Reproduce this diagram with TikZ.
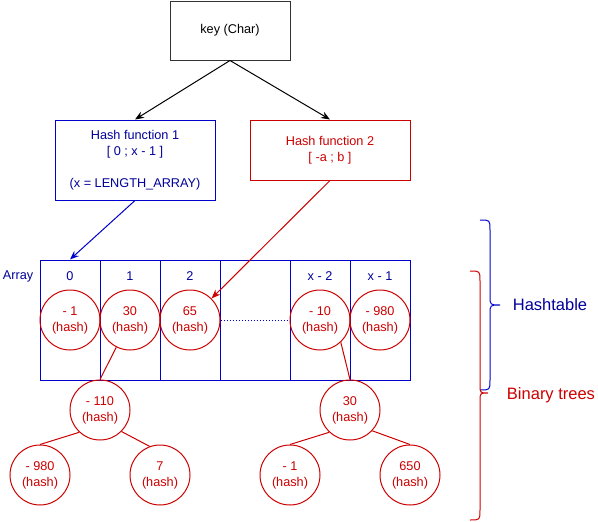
\documentclass[tikz,border=0pt]{standalone}
\usepackage{xcolor}
\usepackage{fontspec}
\setmainfont{Liberation Sans}
\usepackage{tikz}
\usetikzlibrary{arrows.meta}
\definecolor{hblue}{HTML}{0000CC}
\definecolor{hdark}{HTML}{000099}
\definecolor{hred}{HTML}{CC0000}

\begin{document}
\begin{tikzpicture}[x=1pt,y=-1pt,line width=1pt,
		every node/.style={font=\fontsize{12.7}{16}\selectfont, align=center},
		box/.style={draw, rectangle, inner sep=0pt},
		cell/.style={draw=hblue, rectangle, inner sep=0pt, minimum height=120pt},
		hnode/.style={draw=hred, text=hred, circle, inner sep=0pt, minimum size=60pt},
		arr/.style={-{Stealth[length=9pt,width=7pt]}}]
		\useasboundingbox (0,0) rectangle (598,522);
		% input and hash functions
		\node[box, draw=black!80, minimum width=120pt, minimum height=59pt] (key) at (230,30.5) {key (Char)};
		\node[box, draw=hblue, text=hdark, minimum width=160pt, minimum height=80pt] (hf1) at (135,160) {Hash function 1\\{}[ 0 ; x - 1 ]\\[16pt](x = LENGTH\_ARRAY)};
		\node[box, draw=hred, text=hred, minimum width=160pt, minimum height=60pt] (hf2) at (330,150) {Hash function 2\\{}[ -a ; b ]};
		% array
		\node[cell, minimum width=60pt] (a0) at (70,320) {};
		\node[cell, minimum width=60pt] (a1) at (130,320) {};
		\node[cell, minimum width=60pt] (a2) at (190,320) {};
		\node[cell, minimum width=70pt] (a3) at (255,320) {};
		\node[cell, minimum width=60pt] (a4) at (320,320) {};
		\node[cell, minimum width=60pt] (a5) at (380,320) {};
		\node[text=hdark] (arr) at (18,276) {Array};
		\node[text=hdark] (l0) at (70,276) {0};
		\node[text=hdark] (l1) at (130,276) {1};
		\node[text=hdark] (l2) at (190,276) {2};
		\node[text=hdark] (l4) at (320,276) {x - 2};
		\node[text=hdark] (l5) at (380,276) {x - 1};
		\node[hnode] (c0) at (70,320) {- 1\\(hash)};
		\node[hnode] (c1) at (130,320) {30\\(hash)};
		\node[hnode] (c2) at (190,320) {65\\(hash)};
		\node[hnode] (c3) at (320,320) {- 10\\(hash)};
		\node[hnode] (c4) at (380,320) {- 980\\(hash)};
		% trees
		\node[hnode] (t1) at (100,410) {- 110\\(hash)};
		\node[hnode] (t1l) at (40,475) {- 980\\(hash)};
		\node[hnode] (t1r) at (160,475) {7\\(hash)};
		\node[hnode] (t2) at (350,410) {30\\(hash)};
		\node[hnode] (t2l) at (290,475) {- 1\\(hash)};
		\node[hnode] (t2r) at (410,475) {650\\(hash)};
		% connectors
		\draw[arr] (key.south) -- (hf1.north);
		\draw[arr] (key.south) -- (hf2.north);
		\draw[arr, hblue] (hf1.south) -- (a0.north);
		\draw[arr, hred] (hf2.south) -- (c2.north east);
		\draw[hblue, dotted] (c2) -- (c3);
		\draw[hred] (c1) -- (t1.north);
		\draw[hred] (c3.-47) -- (t2.north);
		\draw[hred] (t1.-133) -- (t1l.north);
		\draw[hred] (t1.-45) -- (t1r.110);
		\draw[hred] (t2.-133) -- (t2l.north);
		\draw[hred] (t2.-43) -- (t2r.north);
		% braces
		\coordinate (b1s) at (480,220);
		\coordinate (b1t) at (500,305);
		\coordinate (b1e) at (480,390);
		\coordinate (b2s) at (470,271);
		\coordinate (b2t) at (488,393);
		\coordinate (b2e) at (470,520);
		\draw[hblue] (b1s) .. controls (490,220) .. (490,230) -- (490,296) .. controls (490,305) .. (b1t)
			.. controls (490,305) .. (490,314) -- (490,380) .. controls (490,390) .. (b1e);
		\draw[hred] (b2s) .. controls (480,271) .. (480,281) -- (480,385) .. controls (480,393) .. (b2t)
			.. controls (480,393) .. (480,401) -- (480,510) .. controls (480,520) .. (b2e);
		\node[text=hdark, font=\fontsize{16.5}{19}\selectfont] (ht) at (550,305) {Hashtable};
		\node[text=hred, font=\fontsize{16.5}{19}\selectfont] (bt) at (551,395) {Binary trees};
	\end{tikzpicture}
\end{document}
